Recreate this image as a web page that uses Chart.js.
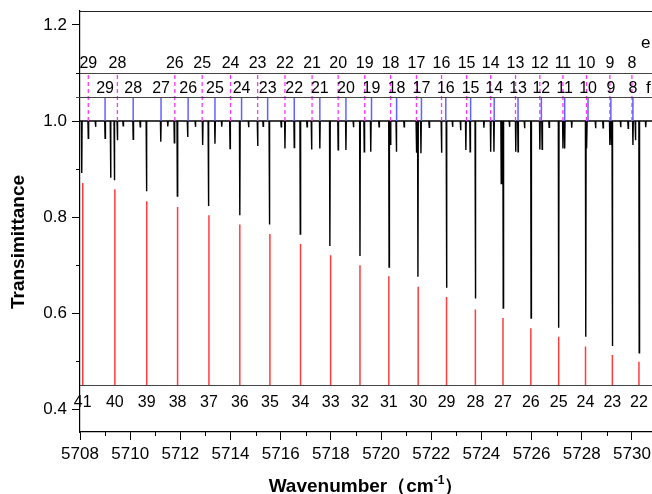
<!DOCTYPE html>
<html>
<head>
<meta charset="utf-8">
<script src="https://cdn.jsdelivr.net/npm/chart.js@4.4.1/dist/chart.umd.min.js"></script>
<style>
  html, body { margin: 0; padding: 0; background: #fff; }
  #wrap { width: 652px; height: 494px; position: relative; }
</style>
</head>
<body>
<div id="wrap"><canvas id="spectrumChart"></canvas></div>
<script>
// Axis ticks
const xTicks = [5708, 5709, 5710, 5711, 5712, 5713, 5714, 5715, 5716, 5717, 5718, 5719,
                5720, 5721, 5722, 5723, 5724, 5725, 5726, 5727, 5728, 5729, 5730];
const xTickLabels = [5708, 5710, 5712, 5714, 5716, 5718, 5720, 5722, 5724, 5726, 5728, 5730];
const yTicks = [0.4, 0.5, 0.6, 0.7, 0.8, 0.9, 1.0, 1.1, 1.2];
const yTickLabels = ['0.4', '0.6', '0.8', '1.0', '1.2'];

// e branch (magenta dashed, top row)
const eBranchJ = [29, 28, 26, 25, 24, 23, 22, 21, 20, 19, 18, 17, 16, 15, 14, 13, 12, 11, 10, 9, 8];
const eBranchPos = [5708.33, 5709.49, 5711.78, 5712.87, 5714.00, 5715.08, 5716.17, 5717.25,
                    5718.29, 5719.35, 5720.38, 5721.41, 5722.41, 5723.41, 5724.37, 5725.36,
                    5726.33, 5727.25, 5728.19, 5729.12, 5730.00];

// f branch (blue, second row)
const fBranchJ = [29, 28, 27, 26, 25, 24, 23, 22, 21, 20, 19, 18, 17, 16, 15, 14, 13, 12, 11, 10, 9, 8];
const fBranchPos = [5709.00, 5710.12, 5711.23, 5712.31, 5713.38, 5714.44, 5715.48, 5716.54,
                    5717.56, 5718.60, 5719.62, 5720.62, 5721.61, 5722.58, 5723.57, 5724.51,
                    5725.46, 5726.39, 5727.32, 5728.25, 5729.16, 5730.04];

// red sticks (bottom row)
const pBranchJ = [41, 40, 39, 38, 37, 36, 35, 34, 33, 32, 31, 30, 29, 28, 27, 26, 25, 24, 23, 22];
const pBranchPos = [5708.11, 5709.39, 5710.66, 5711.89, 5713.14, 5714.37, 5715.57, 5716.79,
                    5717.99, 5719.16, 5720.31, 5721.48, 5722.61, 5723.76, 5724.86, 5725.97,
                    5727.08, 5728.15, 5729.22, 5730.28];
const pBranchTop = [0.871, 0.858, 0.833, 0.821, 0.804, 0.785, 0.765, 0.744, 0.721, 0.700,
                    0.677, 0.655, 0.634, 0.608, 0.590, 0.569, 0.551, 0.531, 0.513, 0.499];

// measured spectrum: absorption dips (position, minimum transmittance)
const dipPos = [5708.07, 5708.33, 5708.62, 5709.00, 5709.22, 5709.37, 5709.49, 5709.72, 5710.12,
                5710.40, 5710.65, 5711.22, 5711.50, 5711.76, 5711.88, 5712.29, 5712.60, 5712.89,
                5713.12, 5713.38, 5713.65, 5713.98, 5714.37, 5714.72, 5715.08, 5715.30, 5715.55,
                5716.02, 5716.17, 5716.54, 5716.78, 5717.05, 5717.23, 5717.56, 5717.96, 5718.29,
                5718.60, 5718.90, 5719.16, 5719.33, 5719.59, 5719.92, 5720.32, 5720.38, 5720.61,
                5720.92, 5721.41, 5721.47, 5721.59, 5721.92, 5722.41, 5722.61, 5722.85, 5723.17,
                5723.38, 5723.55, 5723.76, 5724.10, 5724.37, 5724.50, 5724.79, 5724.87, 5725.12,
                5725.37, 5725.46, 5725.72, 5725.98, 5726.33, 5726.42, 5726.70, 5727.08, 5727.25,
                5727.32, 5727.60, 5728.16, 5728.20, 5728.55, 5728.85, 5729.12, 5729.18, 5729.22,
                5729.55, 5729.85, 5730.04, 5730.14, 5730.29, 5730.55];
const dipDepth = [0.892, 0.964, 0.988, 0.964, 0.882, 0.877, 0.960, 0.990, 0.962,
                  0.988, 0.854, 0.957, 0.989, 0.955, 0.844, 0.967, 0.988, 0.950,
                  0.823, 0.953, 0.988, 0.943, 0.804, 0.987, 0.948, 0.989, 0.785,
                  0.988, 0.943, 0.945, 0.765, 0.988, 0.941, 0.943, 0.740, 0.940,
                  0.940, 0.987, 0.719, 0.936, 0.936, 0.988, 0.696, 0.950, 0.936,
                  0.988, 0.934, 0.676, 0.933, 0.987, 0.934, 0.653, 0.988, 0.981,
                  0.940, 0.936, 0.631, 0.986, 0.936, 0.936, 0.870, 0.611, 0.988,
                  0.936, 0.936, 0.985, 0.590, 0.941, 0.941, 0.987, 0.570, 0.943,
                  0.943, 0.986, 0.551, 0.943, 0.985, 0.986, 0.950, 0.950, 0.532,
                  0.987, 0.985, 0.950, 0.960, 0.518, 0.987];

const xMin = 5708, xMax = 5730.8;
const yMin = 0.353, yMax = 1.229;

// vertical sticks separated by gaps
function sticks(xs, from, to) {
    const pts = [];
    xs.forEach((x, i) => {
        const top = Array.isArray(to) ? to[i] : to;
        pts.push({ x: x, y: from }, { x: x, y: top }, { x: x, y: null });
    });
    return pts;
}

function spectrumPoints() {
    const order = dipPos.map((p, i) => i).sort((a, b) => dipPos[a] - dipPos[b]);
    const pts = [{ x: xMin, y: 1.0 }];
    const w = 0.014;
    order.forEach(i => {
        pts.push({ x: dipPos[i] - w, y: 1.0 }, { x: dipPos[i], y: dipDepth[i] }, { x: dipPos[i] + w, y: 1.0 });
    });
    pts.push({ x: xMax, y: 1.0 });
    return pts;
}

const FONT = '"Liberation Sans", Arial, sans-serif';

const overlayPlugin = {
    id: 'overlay',
    afterDatasetsDraw(chart) {
        const { ctx, chartArea: a, scales: { x, y } } = chart;
        ctx.save();

        // frame top and branch separator lines
        ctx.strokeStyle = '#222';
        ctx.lineWidth = 1.2;
        ctx.beginPath();
        ctx.moveTo(a.left, a.top + 0.5); ctx.lineTo(a.right, a.top + 0.5);
        ctx.stroke();
        ctx.strokeStyle = '#444';
        ctx.lineWidth = 1;
        [1.1, 1.05, 0.45].forEach(v => {
            const py = Math.round(y.getPixelForValue(v)) + 0.5;
            ctx.beginPath();
            ctx.moveTo(v === 0.45 ? a.left : a.left - 4, py);
            ctx.lineTo(a.right, py);
            ctx.stroke();
        });

        // minor ticks
        ctx.strokeStyle = '#000';
        ctx.lineWidth = 1;
        xTicks.forEach(v => {
            if (xTickLabels.includes(v)) return;
            const px = Math.round(x.getPixelForValue(v)) + 0.5;
            ctx.beginPath(); ctx.moveTo(px, a.bottom); ctx.lineTo(px, a.bottom + 4); ctx.stroke();
        });
        yTicks.forEach(v => {
            if (yTickLabels.includes(v.toFixed(1))) return;
            const py = Math.round(y.getPixelForValue(v)) + 0.5;
            ctx.beginPath(); ctx.moveTo(a.left - 4, py); ctx.lineTo(a.left, py); ctx.stroke();
        });

        // assignment labels
        ctx.fillStyle = '#000';
        ctx.font = '16px ' + FONT;
        ctx.textAlign = 'center';
        ctx.textBaseline = 'alphabetic';
        const eY = y.getPixelForValue(1.1) - 5;
        const fY = y.getPixelForValue(1.05) - 4;
        const pY = y.getPixelForValue(0.45) + 22;
        eBranchJ.forEach((j, i) => ctx.fillText(String(j), x.getPixelForValue(eBranchPos[i]), eY));
        fBranchJ.forEach((j, i) => ctx.fillText(String(j), x.getPixelForValue(fBranchPos[i]), fY));
        pBranchJ.forEach((j, i) => ctx.fillText(String(j), x.getPixelForValue(pBranchPos[i]), pY));
        ctx.textAlign = 'left';
        ctx.font = '17px ' + FONT;
        ctx.fillText('e', 641, 48);
        ctx.fillText('f', 646, fY);

        // axis titles
        ctx.font = 'bold 19px ' + FONT;
        ctx.save();
        ctx.translate(19, 242);
        ctx.rotate(-Math.PI / 2);
        ctx.textAlign = 'center';
        ctx.textBaseline = 'middle';
        ctx.fillText('Transimittance', 0, 0);
        ctx.restore();

        const partA = 'Wavenumber（cm';
        const partB = '-1';
        const partC = '）';
        ctx.font = 'bold 19px ' + FONT;
        const wA = ctx.measureText(partA).width;
        const wC = ctx.measureText(partC).width;
        ctx.font = 'bold 12px ' + FONT;
        const wB = ctx.measureText(partB).width;
        let tx = (a.left + a.right) / 2 - (wA + wB + wC) / 2;
        const ty = 492;
        ctx.textAlign = 'left';
        ctx.font = 'bold 19px ' + FONT;
        ctx.fillText(partA, tx, ty);
        tx += wA;
        ctx.font = 'bold 12px ' + FONT;
        ctx.fillText(partB, tx, ty - 8);
        tx += wB;
        ctx.font = 'bold 19px ' + FONT;
        ctx.fillText(partC, tx, ty);

        ctx.restore();
    }
};

const chart = new Chart(document.getElementById('spectrumChart').getContext('2d'), {
    type: 'line',
    data: {
        datasets: [
            {
                label: 'calc',
                data: sticks(pBranchPos, 0.45, pBranchTop),
                borderColor: 'rgba(255, 40, 40, 0.9)',
                borderWidth: 1.5,
                pointRadius: 0,
                spanGaps: false
            },
            {
                label: 'f',
                data: sticks(fBranchPos, 1.0, 1.05),
                borderColor: 'rgba(90, 90, 255, 0.95)',
                borderWidth: 1.5,
                pointRadius: 0,
                spanGaps: false
            },
            {
                label: 'e',
                data: sticks(eBranchPos, 1.0, 1.1),
                borderColor: '#ff33ff',
                borderWidth: 1.3,
                borderDash: [4, 3],
                pointRadius: 0,
                spanGaps: false
            },
            {
                label: 'spectrum',
                data: spectrumPoints(),
                borderColor: '#000',
                borderWidth: 1.4,
                pointRadius: 0,
                tension: 0
            }
        ]
    },
    options: {
        responsive: true,
        maintainAspectRatio: false,
        animation: false,
        layout: { padding: { top: 11, left: 0, right: 0, bottom: 0 } },
        plugins: {
            legend: { display: false },
            tooltip: { enabled: false }
        },
        scales: {
            x: {
                type: 'linear',
                min: xMin,
                max: xMax,
                afterBuildTicks: scale => { scale.ticks = xTicks.map(v => ({ value: v })); },
                afterFit: scale => {
                    scale.height = 62;
                    scale.paddingLeft = 0;
                    scale.paddingRight = 0;
                },
                border: { display: true, color: '#000', width: 1.2 },
                grid: {
                    drawOnChartArea: false,
                    drawTicks: true,
                    tickLength: 8,
                    tickColor: c => (c.tick && xTickLabels.includes(c.tick.value)) ? '#000' : 'transparent'
                },
                ticks: {
                    autoSkip: false,
                    maxRotation: 0,
                    padding: 4,
                    color: '#000',
                    font: { family: FONT, size: 17 },
                    callback: v => xTickLabels.includes(v) ? String(v) : ''
                }
            },
            y: {
                min: yMin,
                max: yMax,
                afterBuildTicks: scale => { scale.ticks = yTicks.map(v => ({ value: v })); },
                afterFit: scale => {
                    scale.width = 80;
                    scale.paddingTop = 0;
                    scale.paddingBottom = 0;
                },
                border: { display: true, color: '#000', width: 1.2 },
                grid: {
                    drawOnChartArea: false,
                    drawTicks: true,
                    tickLength: 8,
                    tickColor: c => (c.tick && yTickLabels.includes(c.tick.value.toFixed(1))) ? '#000' : 'transparent'
                },
                ticks: {
                    padding: 5,
                    color: '#000',
                    font: { family: FONT, size: 17 },
                    callback: v => yTickLabels.includes(v.toFixed(1)) ? v.toFixed(1) : ''
                }
            }
        }
    },
    plugins: [overlayPlugin]
});
</script>
</body>
</html>
